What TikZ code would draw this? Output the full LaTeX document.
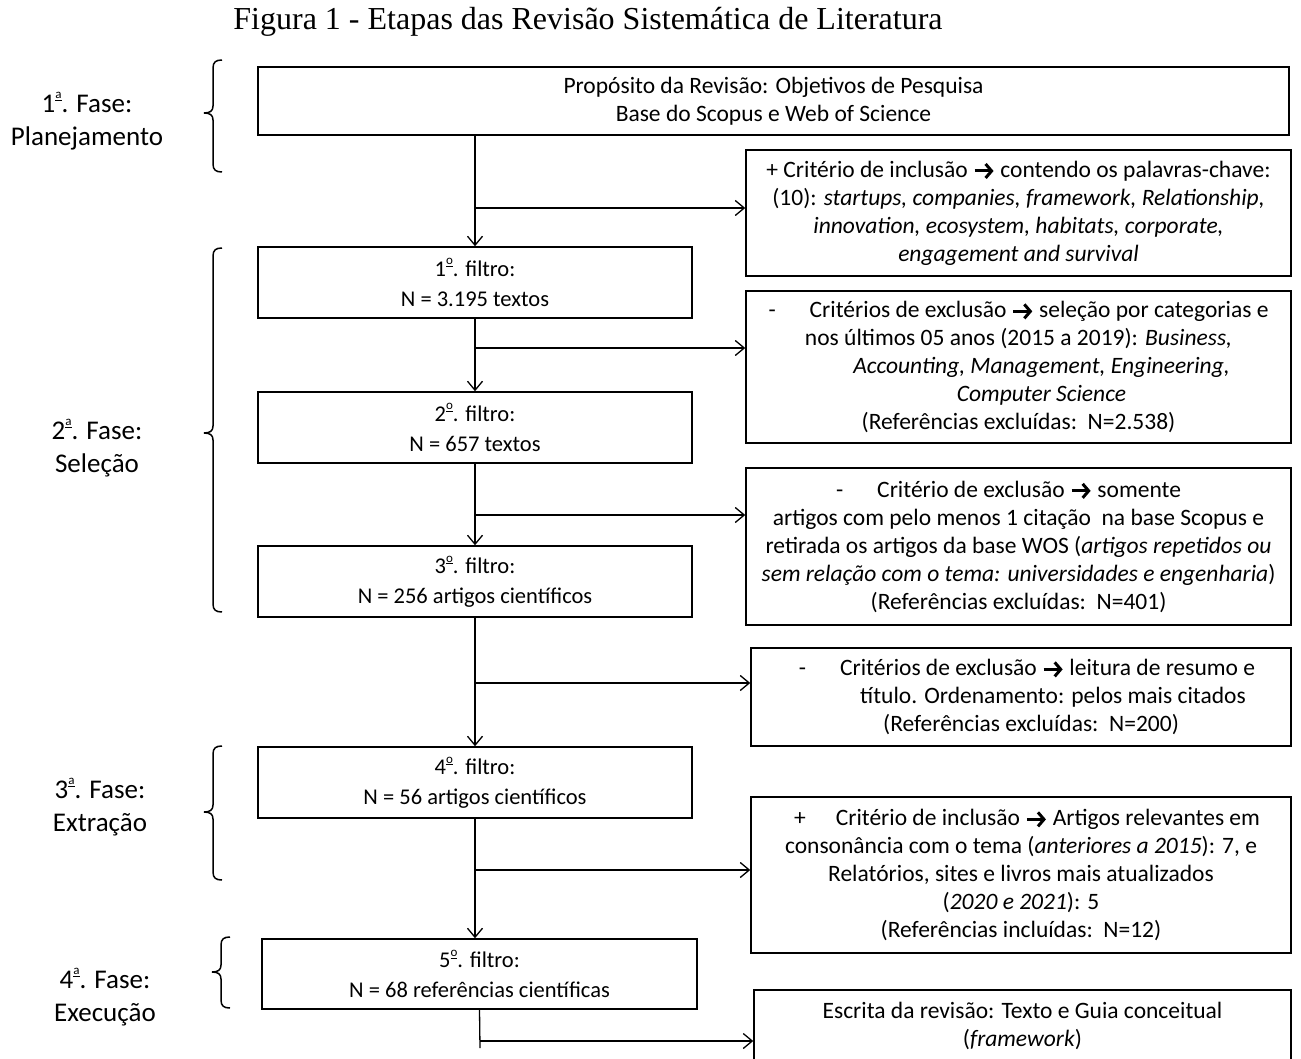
\documentclass[tikz,border=0pt]{standalone}
\usepackage{fontspec}
\setmainfont{Carlito}
\newfontfamily\titlefont{Liberation Serif}
\usetikzlibrary{arrows.meta}
% heavy inline arrow used inside the criteria boxes
\newcommand{\rarr}{\tikz[baseline=-0.55ex]\draw[line width=3pt,
  -{Straight Barb[length=6pt,width=14pt,line width=3pt]}] (0pt,0pt) -- (19pt,0pt);}
% underlined raised ordinal indicator
\newcommand{\ordi}[1]{\raisebox{1.05ex}{\fontsize{13}{13}\selectfont\underline{#1}}}

\begin{document}
\begin{tikzpicture}[x=1pt,y=-1pt,
  box/.style={draw, line width=1.5pt, align=center, inner sep=0pt,
    font=\fontsize{23.5}{28}\selectfont},
  filt/.style={box, font=\fontsize{22.5}{30}\selectfont},
  phase/.style={align=center, inner sep=0pt, font=\fontsize{27}{33}\selectfont},
  link/.style={line width=1.3pt},
  flow/.style={line width=1.3pt, -{Straight Barb[length=9pt,width=15pt,line width=1.3pt]}},
  brace/.style={line width=1.5pt}]

\useasboundingbox (0,0) rectangle (1301,1059);
\clip (0,0) rectangle (1301,1059);

% title
\node[font=\titlefont\fontsize{32}{36}\selectfont] (title) at (588,22)
  {Figura 1 - Etapas das Revisão Sistemática de Literatura};

% main column
\node[box, minimum width=1031pt, minimum height=68pt] (A) at (773.5,101)
  {Propósito da Revisão: Objetivos de Pesquisa\\Base do Scopus e Web of Science};
\node[filt, minimum width=434pt, minimum height=71pt] (F1) at (475,282.5)
  {1\ordi{o}. filtro:\\N = 3.195 textos};
\node[filt, minimum width=434pt, minimum height=71pt] (F2) at (475,427.5)
  {2\ordi{o}. filtro:\\N = 657 textos};
\node[filt, minimum width=434pt, minimum height=71pt] (F3) at (475,581.5)
  {3\ordi{o}. filtro:\\N = 256 artigos científicos};
\node[filt, minimum width=434pt, minimum height=71pt] (F4) at (475,782.5)
  {4\ordi{o}. filtro:\\N = 56 artigos científicos};
\node[filt, minimum width=435pt, minimum height=70pt] (F5) at (479.5,974)
  {5\ordi{o}. filtro:\\N = 68 referências científicas};

% criteria column
\node[box, minimum width=545pt, minimum height=126pt] (C1) at (1018.5,213)
  {+ Critério de inclusão \rarr{} contendo os palavras-chave:\\
   (10): \textit{startups, companies, framework, Relationship,}\\
   \textit{innovation, ecosystem, habitats, corporate,}\\
   \textit{engagement and survival}};
\node[box, minimum width=545pt, minimum height=152pt] (C2) at (1018.5,367)
  {-\hspace{34pt}Critérios de exclusão \rarr{} seleção por categorias e\\
   nos últimos 05 anos (2015 a 2019): \textit{Business,}\\
   \hspace*{46pt}\textit{Accounting, Management, Engineering,}\\
   \hspace*{46pt}\textit{Computer Science}\\
   (Referências excluídas:\ \ N=2.538)};
\node[box, minimum width=545pt, minimum height=157pt] (C3) at (1018.5,546.5)
  {-\hspace{34pt}Critério de exclusão \rarr{} somente\hspace*{20pt}\\
   artigos com pelo menos 1 citação\ \ na base Scopus e\\
   retirada os artigos da base WOS (\textit{artigos repetidos ou}\\
   \textit{sem relação com o tema: universidades e engenharia})\\
   (Referências excluídas:\ \ N=401)};
\node[box, minimum width=540pt, minimum height=98pt] (C4) at (1021,697)
  {\hspace*{12pt}-\hspace{34pt}Critérios de exclusão \rarr{} leitura de resumo e\\
   \hspace*{64pt}título. Ordenamento: pelos mais citados\\
   \hspace*{20pt}(Referências excluídas:\ \ N=200)};
\node[box, minimum width=540pt, minimum height=156pt] (C5) at (1021,875)
  {\hspace*{12pt}+\hspace{30pt}Critério de inclusão \rarr{} Artigos relevantes em\\
   consonância com o tema (\textit{anteriores a 2015}): 7, e\\
   Relatórios, sites e livros mais atualizados\\
   (\textit{2020 e 2021}): 5\\
   (Referências incluídas:\ \ N=12)};
\node[box, minimum width=537pt, minimum height=72pt] (C6) at (1022.5,1026)
  {Escrita da revisão: Texto e Guia conceitual\\(\textit{framework})};

% junctions on the main flow line
\coordinate (j1) at (476,208);
\coordinate (j2) at (476,348);
\coordinate (j3) at (476,515);
\coordinate (j4) at (476,683);
\coordinate (j5) at (476,870);
\coordinate (j6) at (480,1041);
\coordinate (e6) at (480,1048);

% main flow
\draw[flow] (A.south -| F1.north) -- (F1.north);
\draw[flow] (F1.south) -- (F2.north);
\draw[flow] (F2.south) -- (F3.north);
\draw[flow] (F3.south) -- (F4.north);
\draw[flow] (F4.south) -- (F4.south |- F5.north);
\draw[link] (F5.south) -- (e6);

% side branches
\draw[flow] (j1) -- (j1 -| C1.west);
\draw[flow] (j2) -- (j2 -| C2.west);
\draw[flow] (j3) -- (j3 -| C3.west);
\draw[flow] (j4) -- (j4 -| C4.west);
\draw[flow] (j5) -- (j5 -| C5.west);
\draw[flow] (j6) -- (j6 -| C6.west);

% phase braces
\draw[brace] (222,60) .. controls (216,60) and (213,62) .. (213,68) -- (213,106)
  .. controls (213,111) and (210,113) .. (204,113)
  .. controls (210,113) and (213,115) .. (213,120) -- (213,164)
  .. controls (213,170) and (216,172) .. (222,172);
\draw[brace] (222,248) .. controls (216,248) and (213,250) .. (213,256) -- (213,426)
  .. controls (213,431) and (210,433) .. (204,433)
  .. controls (210,433) and (213,435) .. (213,440) -- (213,604)
  .. controls (213,610) and (216,612) .. (222,612);
\draw[brace] (222,746) .. controls (216,746) and (213,748) .. (213,754) -- (213,805)
  .. controls (213,810) and (210,812) .. (204,812)
  .. controls (210,812) and (213,814) .. (213,819) -- (213,872)
  .. controls (213,878) and (216,880) .. (222,880);
\draw[brace] (230,937) .. controls (224,937) and (221,939) .. (221,945) -- (221,965)
  .. controls (221,970) and (218,972) .. (212,972)
  .. controls (218,972) and (221,974) .. (221,979) -- (221,1000)
  .. controls (221,1006) and (224,1008) .. (230,1008);

% phase labels
\node[phase] (P1) at (87,121) {1\ordi{a}. Fase:\\Planejamento};
\node[phase] (P2) at (97,448) {2\ordi{a}. Fase:\\Seleção};
\node[phase] (P3) at (100,807) {3\ordi{a}. Fase:\\Extração};
\node[phase] (P4) at (105,997) {4\ordi{a}. Fase:\\Execução};
\end{tikzpicture}
\end{document}
